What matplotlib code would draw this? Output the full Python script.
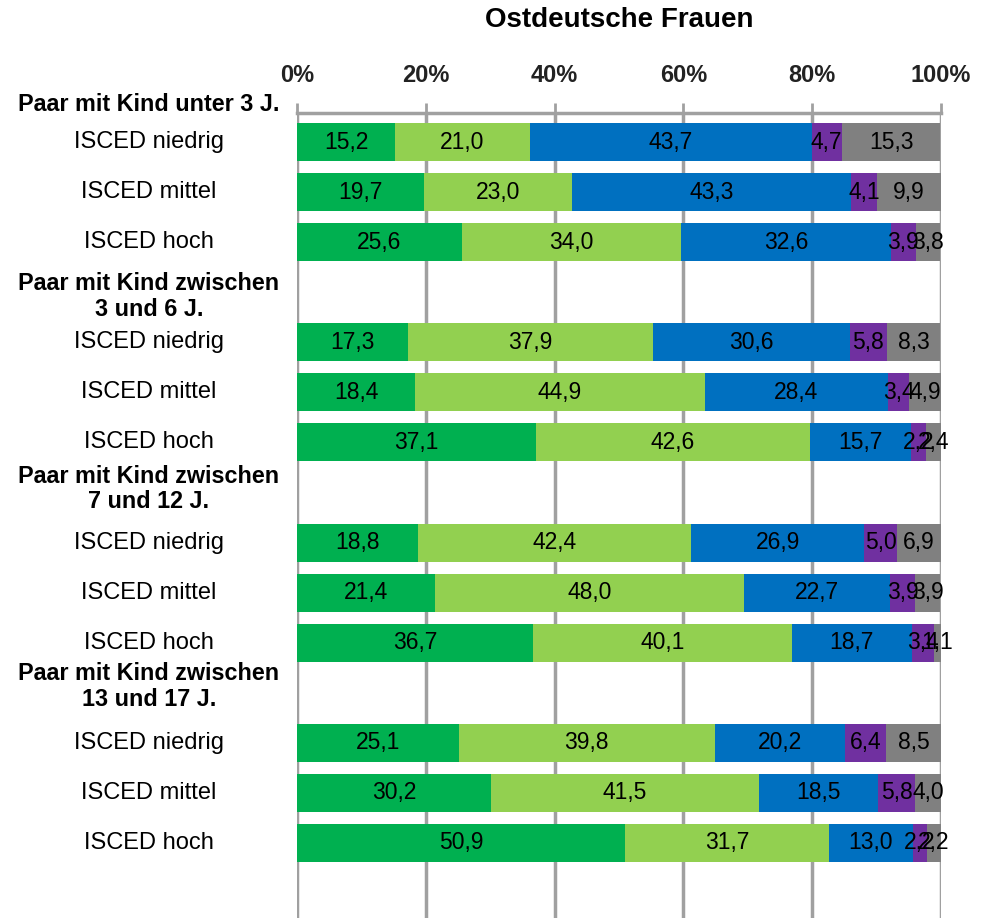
import matplotlib
matplotlib.use("Agg")
import matplotlib.pyplot as plt
import numpy as np

plt.rcParams['font.family'] = ['Liberation Sans', 'DejaVu Sans']

# group headers and the education levels inside each group
groups = ["Paar mit Kind unter 3 J.",
          "Paar mit Kind zwischen\n3 und 6 J.",
          "Paar mit Kind zwischen\n7 und 12 J.",
          "Paar mit Kind zwischen\n13 und 17 J."]
levels = ["ISCED niedrig", "ISCED mittel", "ISCED hoch"]

# shares in percent, one list per segment colour, 12 rows in order
seg1 = [15.2, 19.7, 25.6, 17.3, 18.4, 37.1, 18.8, 21.4, 36.7, 25.1, 30.2, 50.9]
seg2 = [21.0, 23.0, 34.0, 37.9, 44.9, 42.6, 42.4, 48.0, 40.1, 39.8, 41.5, 31.7]
seg3 = [43.7, 43.3, 32.6, 30.6, 28.4, 15.7, 26.9, 22.7, 18.7, 20.2, 18.5, 13.0]
seg4 = [4.7, 4.1, 3.9, 5.8, 3.4, 2.2, 5.0, 3.9, 3.4, 6.4, 5.8, 2.2]
seg5 = [15.3, 9.9, 3.8, 8.3, 4.9, 2.4, 6.9, 3.9, 1.1, 8.5, 4.0, 2.2]

colors = ["#00b050", "#92d050", "#0070c0", "#7030a0", "#808080"]
series = [seg1, seg2, seg3, seg4, seg5]

fig = plt.figure(figsize=(9.89, 9.18), dpi=100)
ax = fig.add_axes([0.3003, 0.0, 0.6512, 0.8769])

# row positions: header rows at 0, 4, 8, 12, bars in between
ypos = []
for g in range(4):
    for l in range(3):
        ypos.append(g * 4 + 1 + l)
ypos = np.array(ypos)

left = np.zeros(len(ypos))
for vals, c in zip(series, colors):
    vals = np.array(vals)
    ax.barh(ypos, vals, left=left, height=0.76, color=c, zorder=3)
    for y, l0, v in zip(ypos, left, vals):
        ax.text(l0 + v / 2, y, f"{v:.1f}".replace(".", ","), ha="center",
                va="center", fontsize=16.5, color="black", zorder=4)
    left += vals

ax.set_xlim(0, 100)
ax.set_ylim(16.5, 0.42)

# vertical gridlines every 20 %
for xv in range(0, 101, 20):
    ax.axvline(xv, color="#a0a0a0", lw=2.5, zorder=1)

ax.xaxis.tick_top()
ax.set_xticks(range(0, 101, 20))
ax.set_xticklabels([f"{v}%" for v in range(0, 101, 20)], fontsize=17,
                   fontweight="bold", color="#222222")
ax.tick_params(axis="x", length=7, width=2, color="#a0a0a0", pad=12)
ax.set_yticks([])
for s in ["left", "right", "bottom"]:
    ax.spines[s].set_visible(False)
ax.spines["top"].set_color("#a0a0a0")
ax.spines["top"].set_linewidth(2.5)

# category labels left of the plot
lx = -23.0
header_y = [0.26, 4.08, 7.93, 11.88]
for g, name in enumerate(groups):
    ax.text(lx, header_y[g], name, ha="center", va="center", fontsize=16.8,
            fontweight="bold", linespacing=1.15, clip_on=False)
    for l, lev in enumerate(levels):
        ax.text(lx, g * 4 + 1 + l, lev, ha="center", va="center",
                fontsize=17, clip_on=False)

fig.text(0.626, 1 - 20 / 918, "Ostdeutsche Frauen", ha="center",
         va="center", fontsize=20, fontweight="bold")

fig.savefig("out.png", dpi=100)
